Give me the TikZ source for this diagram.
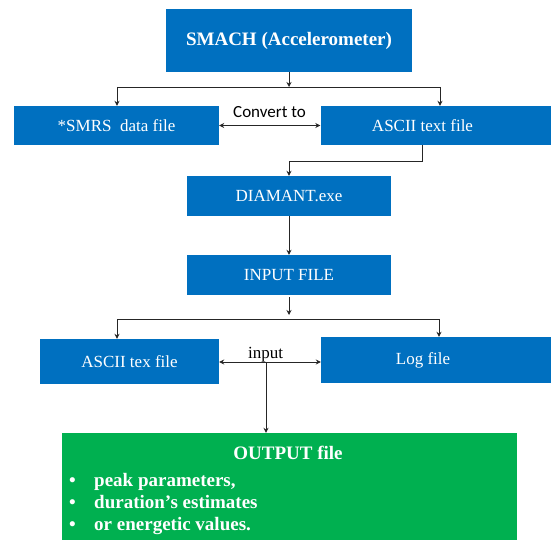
\documentclass[tikz,border=0pt]{standalone}
\usepackage{fontspec}
\setmainfont{Liberation Serif}
\newfontfamily\carlfont{Carlito}
\usetikzlibrary{arrows.meta}
\definecolor{boxblue}{HTML}{0070C0}
\definecolor{boxgreen}{HTML}{00B050}
\begin{document}
\begin{tikzpicture}[x=1pt,y=-1pt,
  box/.style={draw=none, fill=boxblue, text=white, inner sep=0pt, font=\fontsize{17}{20}\selectfont},
  conn/.style={draw=black!85, line width=0.8pt},
  arr/.style={conn, -{Stealth[length=5pt,width=5pt]}},
  darr/.style={conn, {Stealth[length=5pt,width=5pt]}-{Stealth[length=5pt,width=5pt]}},
  lbl/.style={inner sep=0pt, font=\fontsize{17}{20}\selectfont},
  outtxt/.style={inner sep=0pt, text=white, font=\bfseries\fontsize{19}{22}\selectfont}]
\useasboundingbox (0,0) rectangle (551,540);

% boxes
\node[box, minimum width=246pt, minimum height=63pt, font=\bfseries\fontsize{19}{22}\selectfont] (smach) at (289,40.5) {SMACH (Accelerometer)};
\node[box, minimum width=205pt, minimum height=39pt] (smrs) at (116.5,125.5) {*SMRS\ \ data file};
\fill[boxblue] (522,106) rectangle (551,145);
\node[box, minimum width=204pt, minimum height=39pt] (asc) at (422.5,125.5) {ASCII text file};
\node[box, minimum width=204pt, minimum height=40pt] (dia) at (289,196) {DIAMANT.exe};
\node[box, minimum width=204pt, minimum height=40pt] (inp) at (289,275) {INPUT FILE};
\node[box, minimum width=179pt, minimum height=45pt] (atex) at (129.5,361.5) {ASCII tex file};
\fill[boxblue] (522,337) rectangle (551,383);
\node[box, minimum width=204pt, minimum height=46pt] (log) at (423,360) {Log file};
\node[box, fill=boxgreen, minimum width=455pt, minimum height=107pt] (out) at (289.5,486.5) {};

% output text
\node[outtxt, anchor=base] (otitle) at (288,459) {OUTPUT file};
\node[outtxt, anchor=base west] (b1) at (69,486) {•};
\node[outtxt, anchor=base west] (t1) at (94,486) {peak parameters,};
\node[outtxt, anchor=base west] (b2) at (69,508) {•};
\node[outtxt, anchor=base west] (t2) at (94,508) {duration’s estimates};
\node[outtxt, anchor=base west] (b3) at (69,530) {•};
\node[outtxt, anchor=base west] (t3) at (94,530) {or energetic values.};

% junction coordinates
\coordinate (j1) at (289,87);
\coordinate (j1l) at (117,87);
\coordinate (j1r) at (440,87);
\coordinate (j2) at (289,161);
\coordinate (j3a) at (289,315);
\coordinate (j3) at (289,319);
\coordinate (j3l) at (117,319);
\coordinate (j3r) at (439,319);
\coordinate (j4) at (266,362);

% connectors
\draw[arr] (smach.south) -- (j1);
\draw[conn] (j1l) -- (j1r);
\draw[arr] (j1l) -- (j1l |- smrs.north);
\draw[arr] (j1r) -- (j1r |- asc.north);
\draw[darr] (smrs.east) -- (asc.west);
\node[lbl, anchor=base, font=\carlfont\fontsize{17}{20}\selectfont] (conv) at (269.5,118) {Convert to};
\draw[arr] (asc.south) |- (j2) -- (dia.north);
\draw[arr] (dia.south) -- (inp.north);
\draw[arr] ([yshift=-2pt]inp.south) -- (j3a);
\draw[conn] (j3l) -- (j3r);
\draw[arr] (j3l) -- (j3l |- atex.north);
\draw[arr] (j3r) -- (j3r |- log.north);
\draw[darr] (j4 -| atex.east) -- (j4 -| log.west);
\node[lbl, anchor=base] (inlbl) at (265.5,358) {input};
\draw[arr] (j4) -- (j4 |- out.north);
\end{tikzpicture}
\end{document}
